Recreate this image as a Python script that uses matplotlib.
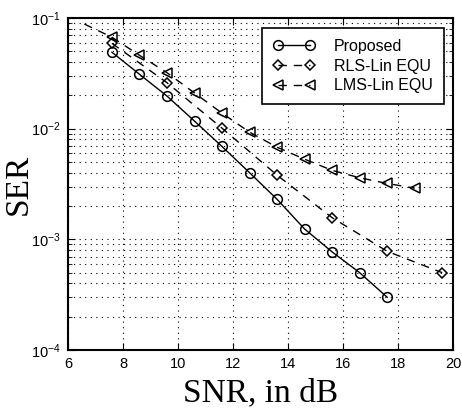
import matplotlib.pyplot as plt
import numpy as np

snr_prop = [7.6, 8.6, 9.6, 10.6, 11.6, 12.6, 13.6, 14.6, 15.6, 16.6, 17.6]
ser_prop = [0.049, 0.031, 0.0197, 0.0117, 0.0069, 0.0040, 0.0023, 0.00124, 0.00077, 0.0005, 0.0003]

snr_rls = [7.6, 9.6, 11.6, 13.6, 15.6, 17.6, 19.6]
ser_rls = [0.059, 0.026, 0.0101, 0.0038, 0.00157, 0.00078, 0.0005]

snr_lms = [6.6, 7.6, 8.6, 9.6, 10.6, 11.6, 12.6, 13.6, 14.6, 15.6, 16.6, 17.6, 18.6]
ser_lms = [0.088, 0.067, 0.046, 0.032, 0.021, 0.0138, 0.0093, 0.0068, 0.0053, 0.0042, 0.0036, 0.0032, 0.0029]

xticks = [6, 8, 10, 12, 14, 16, 18, 20]

fig = plt.figure(figsize=(4.62, 4.08), dpi=100)
ax = fig.add_axes([0.147, 0.142, 0.834, 0.814])

mk = dict(color="k", lw=1.0, markersize=7, fillstyle="none", markeredgewidth=1.1)
ax.semilogy(snr_prop, ser_prop, "-", marker="o", label="Proposed", **mk)
ax.semilogy(snr_rls, ser_rls, linestyle=(0, (6, 5)), marker="D", label="RLS-Lin EQU",
            **dict(mk, markersize=5.5))
ax.semilogy(snr_lms, ser_lms, linestyle=(0, (6, 5)), marker="<", markevery=list(range(1, len(snr_lms))),
            label="LMS-Lin EQU", **mk)

ax.set_xlim(6, 20)
ax.set_ylim(1e-4, 1e-1)
ax.set_xticks(xticks)
ax.set_xticklabels([str(t) for t in xticks], fontfamily="Liberation Sans", fontsize=10.5)
for lab in ax.get_yticklabels():
    lab.set_fontfamily("Liberation Sans")
    lab.set_fontsize(10.5)

ax.grid(True, which="major", color="k", linestyle=(0, (1, 4)), lw=0.8)
ax.grid(True, which="minor", axis="y", color="k", linestyle=(0, (1, 4)), lw=0.8)
ax.tick_params(which="both", direction="in", top=True, right=True)
ax.tick_params(which="major", length=5, pad=5)
ax.tick_params(which="minor", length=3)
for s in ax.spines.values():
    s.set_linewidth(1.5)

ax.set_xlabel("SNR, in dB", fontfamily="Liberation Serif", fontsize=24, labelpad=5)
ax.set_ylabel("SER", fontfamily="Liberation Serif", fontsize=24, labelpad=-2)

leg = ax.legend(loc="upper right", prop={"family": "Liberation Sans", "size": 11.5},
                fancybox=False, edgecolor="k", framealpha=1, numpoints=2,
                handlelength=2.6, handletextpad=1.2, borderpad=0.7,
                borderaxespad=0.6, labelspacing=0.3)
leg.get_frame().set_linewidth(1.2)

fig.savefig("out.png", dpi=100)
